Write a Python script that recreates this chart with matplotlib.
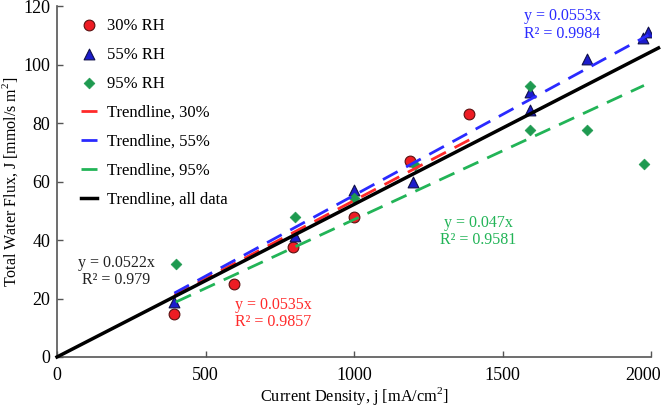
import matplotlib
matplotlib.use("Agg")
import matplotlib.pyplot as plt
import matplotlib.transforms as mtransforms
import numpy as np

plt.rcParams['font.family'] = ['Liberation Serif', 'DejaVu Serif']
plt.rcParams['mathtext.fontset'] = 'custom'
plt.rcParams['mathtext.rm'] = 'Liberation Serif'

# Data
x30 = [395, 597, 793, 1000, 1189, 1388]
y30 = [14.6, 24.9, 37.7, 48.0, 67.1, 83.1]
x55 = [395, 800, 1000, 1200, 1593, 1593, 1783, 1974, 1991]
y55 = [18.9, 41.5, 57.1, 59.9, 84.4, 90.7, 101.8, 109.0, 111.2]
x95 = [400, 800, 1000, 1205, 1593, 1593, 1783, 1976]
y95 = [31.9, 47.8, 54.3, 65.6, 92.8, 77.5, 77.5, 66.1]

slope30, r2_30 = 0.0535, 0.9857
slope55, r2_55 = 0.0553, 0.9984
slope95, r2_95 = 0.047, 0.9581
slope_all, r2_all = 0.0522, 0.979
all_range = [0, 2025]

fig = plt.figure(figsize=(6.66, 4.07), dpi=100)
ax = fig.add_axes([0.0856, 0.1229, 0.892, 0.862])

c_red_m, c_blue_m, c_green_m = '#ee1c24', '#1c1ccc', '#1e9a50'
c_red_l, c_blue_l, c_green_l = '#ff2a2a', '#2a2aff', '#22b457'

ax.scatter(x30, y30, marker='o', s=60, color=c_red_m, edgecolor='#5a1010', linewidth=0.8, zorder=3, label='30% RH')
ax.scatter(x55, y55, marker='^', s=60, color=c_blue_m, edgecolor='#10104a', linewidth=0.8, zorder=3, label='55% RH')
ax.scatter(x95, y95, marker='D', s=30, color=c_green_m, edgecolor=c_green_m, linewidth=0.5, zorder=3, label='95% RH')

def trend(xs, m):
    xx = np.array([min(xs), max(xs)])
    return xx, m * xx

dash = (0, (6, 3.5))
xx, yy = trend(x30, slope30)
ax.plot(xx, yy, color=c_red_l, lw=2, linestyle=dash, zorder=4, label='Trendline, 30%')
xx, yy = trend(x55, slope55)
ax.plot(xx, yy, color=c_blue_l, lw=2, linestyle=dash, zorder=4, label='Trendline, 55%')
xx, yy = trend(x95, slope95)
ax.plot(xx, yy, color=c_green_l, lw=2, linestyle=dash, zorder=4, label='Trendline, 95%')
xa = np.array(all_range)
ax.plot(xa, slope_all * xa, color='black', lw=2.5, zorder=5, label='Trendline, all data', clip_on=False)

ax.set_xlim(0, 2000)
ax.set_ylim(0, 120)
ax.set_xticks([0, 500, 1000, 1500, 2000])
ax.set_yticks([0, 20, 40, 60, 80, 100, 120])
for s in ['top', 'right']:
    ax.spines[s].set_visible(False)
for s in ['left', 'bottom']:
    ax.spines[s].set_color('#555555')
    ax.spines[s].set_linewidth(1.2)
ax.tick_params(direction='in', length=4, width=1, color='#555555', labelsize=13)
ax.tick_params(axis='x', pad=7)
ax.tick_params(axis='y', pad=5)

# nudge the last x tick label slightly left, as in the reference
last = ax.get_xticklabels()[-1]
last.set_transform(last.get_transform() + mtransforms.ScaledTranslation(-8 / 100, 0, fig.dpi_scale_trans))

ax.set_xlabel('Current Density, j [mA/cm$^2$]', fontsize=11.8)
ax.xaxis.set_label_coords(0.5, -0.081)
ax.set_ylabel('Total Water Flux, J [mmol/s m$^2$]', fontsize=11.5)
ax.yaxis.set_label_coords(-0.063, 0.5)

fs = 11.5
ls = 1.12
ax.annotate(f'y = {slope55}x\nR² = {r2_55}', xy=(1700, 113.6), ha='center', va='center', color=c_blue_l, fontsize=fs, linespacing=ls)
ax.annotate(f'y = {slope95}x\nR² = {r2_95}', xy=(1418, 42.9), ha='center', va='center', color=c_green_l, fontsize=fs, linespacing=ls)
ax.annotate(f'y = {slope_all}x\nR² = {r2_all}', xy=(199, 29.2), ha='center', va='center', color='#222222', fontsize=fs, linespacing=ls)
ax.annotate(f'y = {slope30}x\nR² = {r2_30}', xy=(727, 14.8), ha='center', va='center', color=c_red_l, fontsize=fs, linespacing=ls)

leg = ax.legend(loc='upper left', bbox_to_anchor=(0.02, 1.0), frameon=False, fontsize=12,
                labelspacing=0.78, handlelength=1.0, handletextpad=0.6, borderaxespad=0.3)

fig.savefig('out.png', dpi=100)
